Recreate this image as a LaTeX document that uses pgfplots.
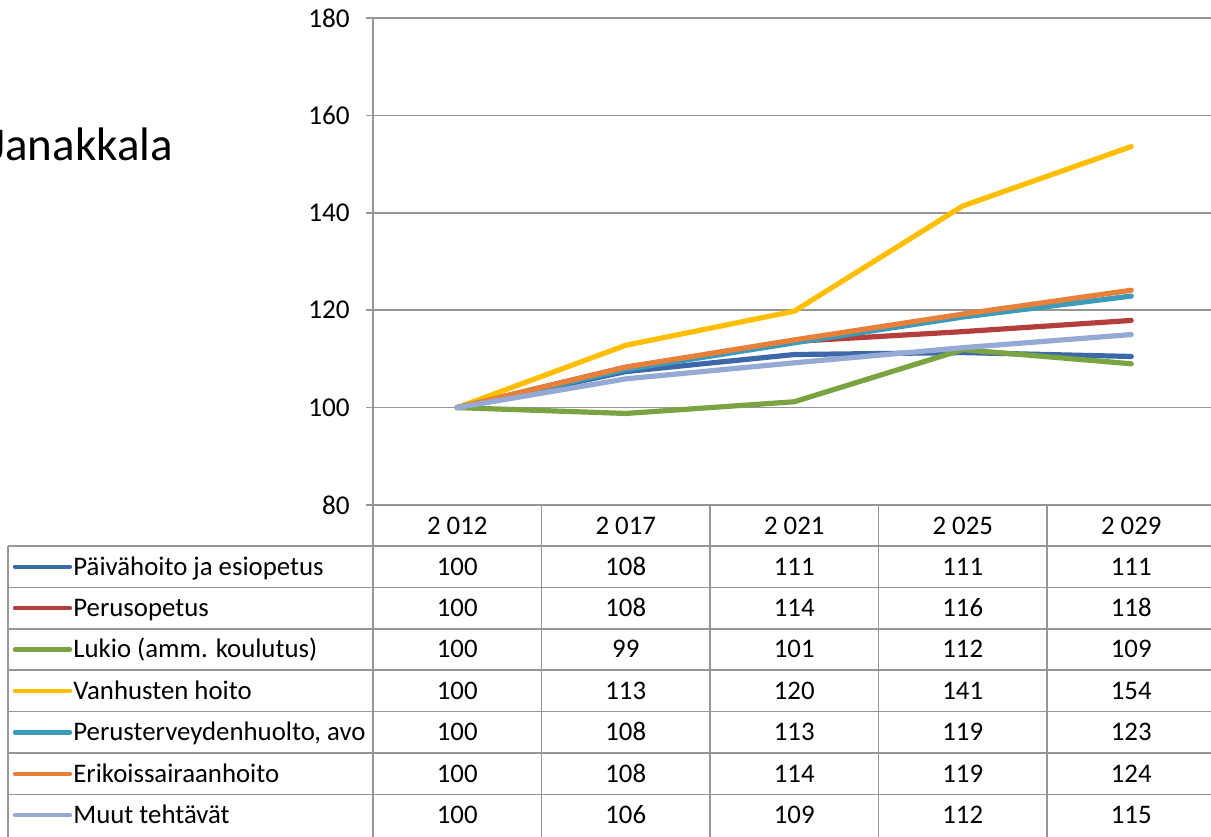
\documentclass[border=0pt]{standalone}
\usepackage{fontspec}
\setmainfont{Carlito}
\usepackage{pgfplots}
\pgfplotsset{compat=1.18}
\definecolor{cBlue}{RGB}{60,104,170}
\definecolor{cRed}{RGB}{180,62,60}
\definecolor{cGreen}{RGB}{122,163,66}
\definecolor{cYellow}{RGB}{255,190,0}
\definecolor{cTeal}{RGB}{58,156,186}
\definecolor{cOrange}{RGB}{232,128,58}
\definecolor{cLight}{RGB}{148,170,212}
\definecolor{cGrid}{RGB}{150,150,150}
\newcommand\trow[4]{%
  \draw[#3,line width=2.2pt,line cap=round] (15,{546+41.4*#1+20.7}) -- (70,{546+41.4*#1+20.7});
  \node[anchor=base west,inner sep=0pt] at (73,{546+41.4*#1+29}) {#2};
  \foreach \v [count=\c from 0] in {#4}
    \node[anchor=base,inner sep=0pt] at ({457.25+168.5*\c},{546+41.4*#1+29}) {\v};
}
\begin{document}
\fontsize{13.4}{16}\selectfont
\begin{tikzpicture}
\path[use as bounding box,clip] (0,0) rectangle (605.5pt,-418pt);
\begin{axis}[at={(186.5pt,-252.5pt)},anchor=south west,scale only axis,
  width=421.25pt,height=243.5pt,
  xmin=-0.5,xmax=4.5,ymin=80,ymax=180,
  ytick={80,100,...,180}, xtick=\empty,
  ymajorgrids, grid style={cGrid,line width=0.75pt},
  axis x line*=bottom, axis y line*=left,
  axis line style={cGrid,line width=0.75pt,-},
  tick align=outside, major tick length=3.5pt,
  tick style={cGrid,line width=0.75pt},
  yticklabel style={font=\fontsize{13.6}{16}\selectfont,text=black,xshift=-3.5pt},
  /pgf/number format/assume math mode=true,
  every axis plot/.append style={line width=2.6pt,line join=round,line cap=round,mark=none},
]
\addplot[cBlue] coordinates {(0,100) (1,107.4) (2,110.9) (3,111.3) (4,110.5)};
\addplot[cRed] coordinates {(0,100) (1,108.3) (2,113.6) (3,115.6) (4,117.9)};
\addplot[cGreen] coordinates {(0,100) (1,98.8) (2,101.2) (3,111.9) (4,109.0)};
\addplot[cYellow] coordinates {(0,100) (1,112.8) (2,119.8) (3,141.4) (4,153.6)};
\addplot[cTeal] coordinates {(0,100) (1,107.8) (2,113.3) (3,118.6) (4,122.9)};
\addplot[cOrange] coordinates {(0,100) (1,108.3) (2,113.9) (3,119.2) (4,124.1)};
\addplot[cLight] coordinates {(0,100) (1,105.9) (2,109.2) (3,112.3) (4,115.0)};
\end{axis}
\begin{scope}[x=0.5pt,y=-0.5pt]
\node[anchor=base west,inner sep=0pt,font=\fontsize{23.5}{28}\selectfont] at (-10,160) {Janakkala};
\begin{scope}[cGrid,line width=0.75pt]
  \foreach \yy in {546,587.4,628.8,670.2,711.6,753,794.4}
    \draw (8,\yy) -- (1215,\yy);
  \draw (8,546) -- (8,840);
  \foreach \xx in {373,541.5,710,878.5,1047}
    \draw (\xx,505) -- (\xx,840);
\end{scope}
\foreach \h [count=\c from 0] in {2 012,2 017,2 021,2 025,2 029}
  \node[anchor=base,inner sep=0pt] at ({457.25+168.5*\c},534) {\h};
\trow{0}{Päivähoito ja esiopetus}{cBlue}{100,108,111,111,111}
\trow{1}{Perusopetus}{cRed}{100,108,114,116,118}
\trow{2}{Lukio (amm. koulutus)}{cGreen}{100,99,101,112,109}
\trow{3}{Vanhusten hoito}{cYellow}{100,113,120,141,154}
\trow{4}{Perusterveydenhuolto, avo}{cTeal}{100,108,113,119,123}
\trow{5}{Erikoissairaanhoito}{cOrange}{100,108,114,119,124}
\trow{6}{Muut tehtävät}{cLight}{100,106,109,112,115}
\end{scope}
\end{tikzpicture}
\end{document}
